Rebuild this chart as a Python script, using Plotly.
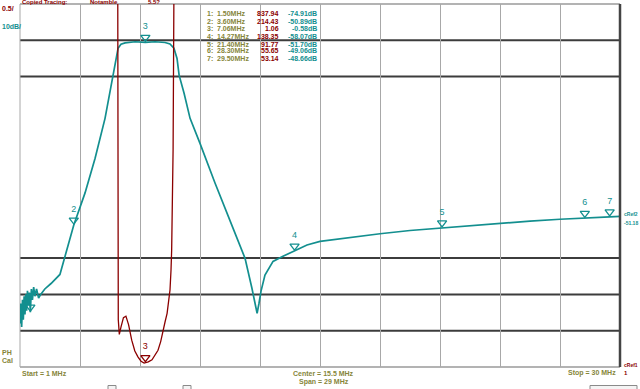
import plotly.graph_objects as go

# ---------------- data ----------------
# S21-type magnitude trace (dB), teal
mag_freq_mhz = [1.00, 1.04, 1.08, 1.12, 1.16, 1.20, 1.24, 1.28, 1.32, 1.36, 1.40, 1.45, 1.50,
                1.55, 1.60, 1.66, 1.72, 1.80, 1.90, 2.00, 2.20, 2.50, 2.93, 3.22, 3.60, 4.14,
                4.63, 5.11, 5.50, 5.64, 5.74, 5.88, 6.08, 6.56, 7.06, 7.53, 8.01, 8.25, 8.44,
                8.59, 8.69, 8.93, 9.22, 9.70, 10.43, 11.30, 11.88, 12.21, 12.36, 12.46, 12.55,
                12.65, 12.84, 13.23, 13.71, 14.27, 14.87, 15.50, 16.95, 18.40, 19.85, 21.40,
                22.75, 24.20, 25.65, 27.10, 28.30, 29.50, 30.00]
mag_db = [-78.0, -72.5, -79.0, -71.5, -77.0, -70.5, -75.5, -70.0, -74.5, -69.0, -73.0, -69.5,
          -74.9, -68.5, -71.5, -68.0, -70.5, -68.5, -71.0, -70.0, -68.5, -67.0, -64.5, -58.5,
          -50.9, -42.1, -32.5, -21.5, -9.6, -5.0, -2.2, -1.1, -0.7, -0.4, -0.58, -0.4, -0.6,
          -1.0, -2.2, -5.0, -9.6, -14.6, -21.5, -28.4, -39.4, -51.8, -60.1, -68.3, -72.5,
          -75.2, -72.5, -69.1, -64.7, -60.9, -59.5, -58.07, -56.4, -55.4, -54.3, -53.3,
          -52.4, -51.70, -51.0, -50.4, -49.8, -49.3, -49.06, -48.66, -48.5]

# SWR trace (0.5 / div), dark red
swr_freq_mhz = [1.00, 1.50, 3.60, 5.00, 5.60, 5.72, 5.75, 5.80, 5.88, 6.00, 6.12, 6.25, 6.40,
                6.55, 6.70, 6.85, 7.00, 7.06, 7.20, 7.38, 7.55, 7.67, 7.80, 7.91, 8.01, 8.11,
                8.25, 8.30, 8.33, 8.40, 8.49, 9.00, 12.00, 14.27, 21.40, 28.30, 29.50, 30.00]
swr = [900, 837.94, 214.43, 50, 15, 7, 1.65, 1.45, 1.55, 1.68, 1.70, 1.58, 1.37, 1.22, 1.14,
       1.08, 1.055, 1.06, 1.07, 1.10, 1.17, 1.23, 1.35, 1.51, 1.62, 1.74, 2.06, 2.34, 2.61,
       4.0, 7.0, 60, 200, 138.35, 91.77, 55.65, 53.14, 52]

# markers
mk_ids = ["1", "2", "3", "4", "5", "6", "7"]
mk_freq = [1.50, 3.60, 7.06, 14.27, 21.40, 28.30, 29.50]
mk_freq_txt = ["1.50MHz", "3.60MHz", "7.06MHz", "14.27MHz", "21.40MHz", "28.30MHz", "29.50MHz"]
mk_swr = [837.94, 214.43, 1.06, 138.35, 91.77, 55.65, 53.14]
mk_swr_txt = ["837.94", "214.43", "1.06", "138.35", "91.77", "55.65", "53.14"]
mk_db = [-74.91, -50.89, -0.58, -58.07, -51.70, -49.06, -48.66]
mk_db_txt = ["-74.91dB", "-50.89dB", "-0.58dB", "-58.07dB", "-51.70dB", "-49.06dB", "-48.66dB"]

# ---------------- styles ----------------
TEAL = "#138f8f"
DRED = "#8b0000"
OLIVE = "#86863a"
FONT = "Liberation Sans Narrow, Liberation Sans, Arial"

W, H = 640, 389
L, R, T, B = 20, 620, 4, 367


def px(x):
    return (x - L) / (R - L)


def py(y):
    return (B - y) / (B - T)


fig = go.Figure()

fig.add_trace(go.Scatter(x=mag_freq_mhz, y=mag_db, mode="lines",
                         line=dict(color=TEAL, width=1.7), hoverinfo="skip"))
fig.add_trace(go.Scatter(x=swr_freq_mhz, y=swr, mode="lines", yaxis="y2",
                         line=dict(color=DRED, width=1.3), hoverinfo="skip"))

# teal marker triangles with numbers
db_per_px = 100 / (B - T)
fig.add_trace(go.Scatter(x=mk_freq, y=[d + 5 * db_per_px for d in mk_db],
                         mode="markers+text", text=mk_ids, textposition="top center",
                         textfont=dict(family=FONT, size=9, color=TEAL),
                         marker=dict(symbol="triangle-down-open", size=8, color=TEAL,
                                     line=dict(color=TEAL, width=1.3)),
                         cliponaxis=False, hoverinfo="skip"))

# red marker 3 (on screen) and off-screen indicators at top
swr_per_px = 5 / (B - T)
on_i = [i for i, v in enumerate(mk_swr) if v <= 6]
off_i = [i for i, v in enumerate(mk_swr) if v > 6 and mk_freq[i] > 10]
fig.add_trace(go.Scatter(x=[mk_freq[i] for i in on_i],
                         y=[mk_swr[i] + 5 * swr_per_px for i in on_i], yaxis="y2",
                         mode="markers+text", text=[mk_ids[i] for i in on_i],
                         textposition="top center",
                         textfont=dict(family=FONT, size=9, color=DRED),
                         marker=dict(symbol="triangle-down-open", size=8, color=DRED,
                                     line=dict(color=DRED, width=1.3)),
                         cliponaxis=False, hoverinfo="skip"))
fig.add_trace(go.Scatter(x=[mk_freq[i] for i in off_i],
                         y=[6 + 2.5 * swr_per_px for _ in off_i], yaxis="y2",
                         mode="markers",
                         marker=dict(symbol="triangle-down-open", size=6, color=DRED,
                                     line=dict(color=DRED, width=1.6)),
                         cliponaxis=False, hoverinfo="skip"))

# teal reference arrow on right
fig.add_trace(go.Scatter(x=[30.12], y=[mag_db[-1]], mode="markers",
                         marker=dict(symbol="triangle-left", size=5, color=TEAL),
                         cliponaxis=False, hoverinfo="skip"))

shapes = []
for dbv in [0, -10, -60, -70, -80]:
    shapes.append(dict(type="line", xref="paper", yref="y", x0=0, x1=1, y0=dbv, y1=dbv,
                       line=dict(color="#3c3c3c", width=2), layer="below"))
shapes.append(dict(type="line", xref="paper", yref="paper", x0=0, x1=1, y0=1, y1=1,
                   line=dict(color="#9a9a9a", width=1.5), layer="below"))
shapes.append(dict(type="line", xref="paper", yref="paper", x0=0, x1=1, y0=0, y1=0,
                   line=dict(color="#9a9a9a", width=1.5), layer="below"))
shapes.append(dict(type="line", xref="paper", yref="paper", x0=0, x1=0, y0=0, y1=1,
                   line=dict(color="#a8a8a8", width=1), layer="below"))
shapes.append(dict(type="line", xref="paper", yref="paper", x0=1, x1=1, y0=0, y1=1,
                   line=dict(color="#444444", width=2.5), layer="above"))
# little UI boxes at the very bottom
for x0, x1 in [(108, 116), (183, 191), (590, 637)]:
    shapes.append(dict(type="rect", xref="paper", yref="paper", x0=px(x0), x1=px(x1),
                       y0=py(389.5), y1=py(385.5), line=dict(color="#8a8a8a", width=1),
                       fillcolor="#f4f4f4"))

ann = []


def txt(x, y, s, color, anchor="left", size=8, bold=False):
    ann.append(dict(xref="paper", yref="paper", x=px(x), y=py(y), text=("<b>%s</b>" % s) if bold else s,
                    showarrow=False, xanchor=anchor, yanchor="middle",
                    font=dict(family=FONT, size=size, color=color)))


# header (at the very top edge, as in the reference)
txt(20, 2, "Copied Tracing:", DRED, size=6, bold=True)
txt(88, 2, "Notamble", DRED, size=6, bold=True)
txt(146, 2, "5.5?", DRED, size=6, bold=True)

# left scale labels
txt(0, 8, "0.5/", DRED, size=7, bold=True)
txt(0, 27, "10dB/", TEAL, size=7, bold=True)
txt(0, 352, "PH", OLIVE, size=7, bold=True)
txt(0, 360, "Cal", OLIVE, size=7, bold=True)

# marker table
row_y = [13, 21, 28, 36, 44, 51, 59]
for i in range(len(mk_ids)):
    txt(205, row_y[i], mk_ids[i] + ":", OLIVE, size=7, bold=True)
    txt(215, row_y[i], mk_freq_txt[i], OLIVE, size=7, bold=True)
    txt(281, row_y[i], mk_swr_txt[i], DRED, anchor="right", size=7, bold=True)
    txt(319, row_y[i], mk_db_txt[i], TEAL, anchor="right", size=7, bold=True)

# bottom annotations
txt(20, 373, "Start = 1 MHz", OLIVE, size=7, bold=True)
txt(291, 373, "Center = 15.5 MHz", OLIVE, size=7, bold=True)
txt(297, 382, "Span = 29 MHz", OLIVE, size=7, bold=True)
txt(618, 373, "Stop = 30 MHz", OLIVE, anchor="right", size=7, bold=True)

# right reference labels (tiny, to fit the 20px right strip)
txt(640, 214, "cRef2", TEAL, anchor="right", size=5, bold=True)
txt(640, 223, "-51.18", TEAL, anchor="right", size=5, bold=True)
txt(640, 365, "cRef1", DRED, anchor="right", size=5, bold=True)
txt(622, 373, "1", DRED, size=6, bold=True)

fig.update_layout(
    width=W, height=H,
    margin=dict(l=L, r=W - R, t=T, b=H - B),
    paper_bgcolor="white", plot_bgcolor="white",
    showlegend=False,
    xaxis=dict(range=[1, 30], tick0=1, dtick=2.9, showgrid=True, gridcolor="#a8a8a8",
               gridwidth=1, showticklabels=False, zeroline=False, ticks="",
               fixedrange=True),
    yaxis=dict(range=[-90, 10], showgrid=False, showticklabels=False, zeroline=False,
               ticks="", fixedrange=True),
    yaxis2=dict(range=[1, 6], overlaying="y", showgrid=False, showticklabels=False,
                zeroline=False, ticks="", fixedrange=True, side="right"),
    shapes=shapes,
    annotations=ann,
)

fig.write_html("out.html", config={"displayModeBar": False},
               post_script="document.body.style.margin='0';document.body.style.overflow='hidden';")
